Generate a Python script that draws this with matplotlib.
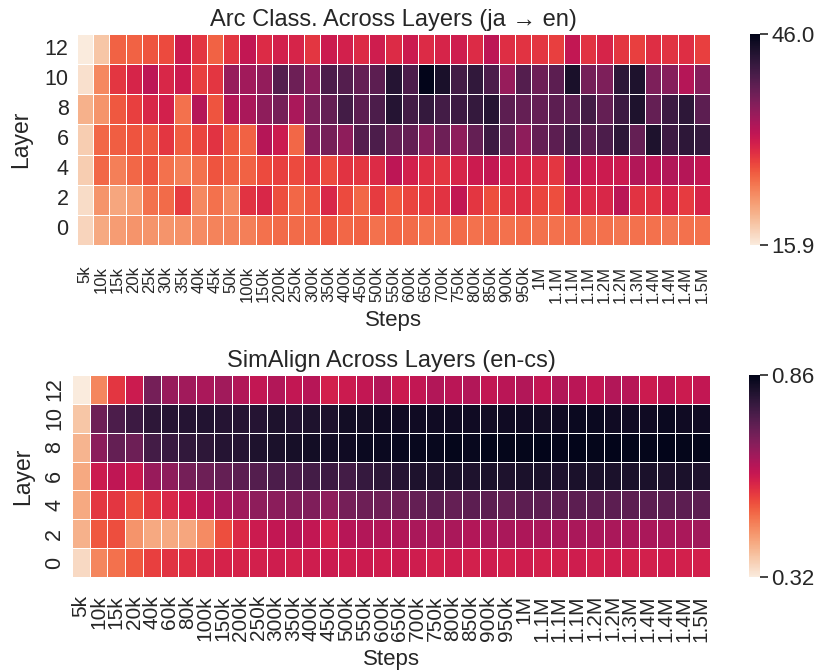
import numpy as np
import matplotlib
matplotlib.use("Agg")
import matplotlib.pyplot as plt
import seaborn as sns

sns.set_theme(style="white")
plt.rcParams["font.family"] = ["Liberation Sans", "DejaVu Sans"]

layers = [12, 10, 8, 6, 4, 2, 0]

# x labels (steps)
arc_steps = ["5k", "10k", "15k", "20k", "25k", "30k", "35k", "40k", "45k", "50k",
             "100k", "150k", "200k", "250k", "300k", "350k", "400k", "450k", "500k",
             "550k", "600k", "650k", "700k", "750k", "800k", "850k", "900k", "950k",
             "1M", "1.1M", "1.1M", "1.1M", "1.2M", "1.2M", "1.3M", "1.4M", "1.4M",
             "1.4M", "1.5M"]
sim_steps = ["5k", "10k", "15k", "20k", "40k", "60k", "80k",
             "100k", "150k", "200k", "250k", "300k", "350k", "400k", "450k", "500k",
             "550k", "600k", "650k", "700k", "750k", "800k", "850k", "900k", "950k",
             "1M", "1.1M", "1.1M", "1.1M", "1.2M", "1.2M", "1.3M", "1.4M", "1.4M",
             "1.4M", "1.5M"]

# arc classification accuracy, ja -> en
arc_l12 = [15.9, 18.9, 25.8, 25.8, 26.7, 27.3, 30.9, 28.5, 25.8, 28.5, 31.6, 29.4, 30.3, 30.0,
           28.5, 30.9, 30.3, 29.4, 30.6, 29.4, 30.9, 29.4, 30.0, 30.6, 29.4, 31.9, 29.1, 28.8,
           28.5, 27.9, 31.6, 28.8, 30.0, 28.5, 27.9, 29.1, 28.8, 29.1, 27.9]
arc_l10 = [16.8, 23.4, 28.5, 30.0, 31.9, 29.7, 30.9, 27.9, 28.5, 34.6, 34.0, 34.9, 39.4, 37.6,
           35.5, 40.0, 39.4, 38.2, 38.8, 43.0, 40.0, 46.0, 43.9, 40.6, 42.1, 40.0, 34.6, 39.4,
           37.6, 38.8, 43.9, 37.0, 36.4, 42.4, 43.6, 36.4, 35.8, 32.5, 35.8]
arc_l8 = [20.4, 22.5, 26.4, 27.9, 29.7, 30.3, 24.9, 32.5, 26.7, 32.5, 33.4, 35.2, 37.0, 33.4,
          36.4, 38.2, 40.6, 38.8, 40.0, 43.0, 40.6, 41.8, 40.6, 41.2, 41.8, 43.0, 38.8, 38.2,
          38.2, 38.8, 38.8, 40.6, 38.2, 41.2, 43.6, 38.2, 41.2, 42.4, 38.8]
arc_l6 = [18.3, 25.5, 26.1, 26.7, 26.4, 28.5, 26.1, 27.6, 28.8, 26.4, 25.8, 32.5, 30.9, 25.5,
          35.8, 37.0, 35.2, 39.4, 40.0, 38.2, 38.2, 35.8, 37.6, 35.2, 38.2, 41.2, 38.2, 35.2,
          38.2, 38.8, 40.6, 38.8, 40.0, 42.4, 38.2, 43.6, 41.2, 42.4, 41.8]
arc_l4 = [18.3, 25.5, 24.0, 25.5, 26.7, 24.9, 24.0, 24.9, 26.7, 25.8, 25.8, 27.3, 27.9, 27.3,
          28.5, 27.3, 28.8, 28.5, 29.4, 31.9, 30.3, 29.1, 28.5, 30.0, 30.9, 31.6, 30.3, 30.0,
          29.4, 28.5, 32.5, 30.9, 30.9, 30.9, 32.8, 32.2, 32.8, 32.5, 31.6]
arc_l2 = [17.1, 22.5, 21.3, 21.9, 24.9, 25.2, 28.2, 23.4, 24.9, 23.4, 28.8, 29.7, 27.0, 25.5,
          26.7, 29.7, 27.3, 25.5, 28.2, 26.4, 27.6, 28.2, 28.8, 31.6, 28.5, 27.0, 28.8, 29.1,
          27.6, 27.0, 30.0, 29.4, 29.7, 32.2, 28.8, 28.8, 30.0, 28.2, 30.0]
arc_l0 = [17.7, 21.0, 21.9, 22.5, 22.5, 22.5, 22.8, 23.1, 23.7, 23.7, 24.0, 24.9, 25.2, 25.2,
          25.5, 26.4, 25.5, 25.8, 24.9, 25.5, 25.2, 24.9, 24.9, 25.2, 24.9, 25.2, 24.9, 25.2,
          24.9, 24.9, 25.2, 24.9, 24.9, 24.6, 24.9, 24.9, 24.6, 24.9, 24.9]

# SimAlign, en-cs
sim_l12 = [0.32, 0.455, 0.547, 0.59, 0.698, 0.655, 0.644, 0.633, 0.644, 0.622, 0.601, 0.622,
           0.601, 0.617, 0.579, 0.59, 0.601, 0.622, 0.59, 0.601, 0.622, 0.612, 0.622, 0.601,
           0.612, 0.622, 0.601, 0.622, 0.612, 0.601, 0.622, 0.617, 0.59, 0.606, 0.59, 0.601]
sim_l10 = [0.374, 0.709, 0.752, 0.774, 0.795, 0.806, 0.806, 0.811, 0.806, 0.806, 0.806, 0.817,
           0.811, 0.817, 0.817, 0.833, 0.833, 0.838, 0.838, 0.838, 0.838, 0.838, 0.838, 0.833,
           0.838, 0.838, 0.833, 0.838, 0.844, 0.844, 0.838, 0.838, 0.838, 0.844, 0.838, 0.838]
sim_l8 = [0.396, 0.671, 0.72, 0.709, 0.763, 0.779, 0.79, 0.795, 0.806, 0.806, 0.817, 0.822,
          0.828, 0.833, 0.833, 0.838, 0.844, 0.844, 0.849, 0.849, 0.849, 0.855, 0.849, 0.86,
          0.855, 0.855, 0.86, 0.855, 0.86, 0.855, 0.86, 0.86, 0.855, 0.86, 0.855, 0.855]
sim_l6 = [0.412, 0.59, 0.606, 0.59, 0.655, 0.666, 0.698, 0.709, 0.72, 0.73, 0.741, 0.752,
          0.752, 0.763, 0.774, 0.763, 0.784, 0.795, 0.806, 0.817, 0.817, 0.822, 0.817, 0.822,
          0.817, 0.822, 0.822, 0.817, 0.822, 0.822, 0.822, 0.822, 0.822, 0.817, 0.822, 0.817]
sim_l4 = [0.412, 0.547, 0.547, 0.52, 0.547, 0.568, 0.59, 0.612, 0.633, 0.644, 0.666, 0.671,
          0.682, 0.687, 0.666, 0.698, 0.709, 0.709, 0.709, 0.72, 0.73, 0.72, 0.73, 0.73,
          0.72, 0.73, 0.73, 0.73, 0.73, 0.73, 0.73, 0.73, 0.73, 0.73, 0.73, 0.73]
sim_l2 = [0.401, 0.509, 0.52, 0.439, 0.412, 0.412, 0.417, 0.45, 0.52, 0.563, 0.59, 0.601,
          0.617, 0.601, 0.579, 0.617, 0.622, 0.622, 0.622, 0.633, 0.633, 0.633, 0.622, 0.633,
          0.633, 0.628, 0.633, 0.633, 0.633, 0.633, 0.633, 0.633, 0.633, 0.633, 0.633, 0.644]
sim_l0 = [0.347, 0.455, 0.482, 0.509, 0.536, 0.552, 0.558, 0.568, 0.574, 0.574, 0.579, 0.585,
          0.579, 0.585, 0.59, 0.585, 0.59, 0.585, 0.59, 0.585, 0.579, 0.585, 0.579, 0.585,
          0.579, 0.585, 0.579, 0.579, 0.585, 0.579, 0.585, 0.579, 0.579, 0.585, 0.579, 0.579]

arc = np.array([arc_l12, arc_l10, arc_l8, arc_l6, arc_l4, arc_l2, arc_l0])
sim = np.array([sim_l12, sim_l10, sim_l8, sim_l6, sim_l4, sim_l2, sim_l0])

W, H = 830, 671
fig = plt.figure(figsize=(W / 100, H / 100), dpi=100)


def box(x0, y0, x1, y1):
    return [x0 / W, 1 - y1 / H, (x1 - x0) / W, (y1 - y0) / H]


ax1 = fig.add_axes(box(77, 34, 710, 245))
cax1 = fig.add_axes(box(750, 34, 760, 245))
ax2 = fig.add_axes(box(72, 375, 710, 577))
cax2 = fig.add_axes(box(749, 375, 760, 577))

vmin1, vmax1 = arc.min(), arc.max()
sns.heatmap(arc, ax=ax1, cbar_ax=cax1, cmap="rocket_r", vmin=vmin1, vmax=vmax1,
            linewidths=0.5, linecolor="white", xticklabels=arc_steps, yticklabels=layers,
            cbar_kws={"ticks": [vmin1, vmax1]})
cax1.set_yticklabels([f"{vmin1:.1f}", f"{vmax1:.1f}"])
ax1.set_title("Arc Class. Across Layers (ja \u2192 en)", fontsize=17, pad=6)
ax1.set_xlabel("Steps", fontsize=16, labelpad=5)
ax1.set_ylabel("Layer", fontsize=16.5, labelpad=9)
ax1.tick_params(axis="x", labelsize=12, length=0, rotation=90, pad=15)
ax1.tick_params(axis="y", labelsize=15.5, length=0, rotation=0, pad=6)

vmin2, vmax2 = sim.min(), sim.max()
sns.heatmap(sim, ax=ax2, cbar_ax=cax2, cmap="rocket_r", vmin=vmin2, vmax=vmax2,
            linewidths=0.5, linecolor="white", xticklabels=sim_steps, yticklabels=layers,
            cbar_kws={"ticks": [vmin2, vmax2]})
cax2.set_yticklabels([f"{vmin2:.2f}", f"{vmax2:.2f}"])
ax2.set_title("SimAlign Across Layers (en-cs)", fontsize=17, pad=6)
ax2.set_xlabel("Steps", fontsize=16, labelpad=5)
ax2.set_ylabel("Layer", fontsize=16.5, labelpad=7)
ax2.tick_params(axis="x", labelsize=15, length=0, rotation=90, pad=13)
ax2.tick_params(axis="y", labelsize=15.5, length=0, rotation=90, pad=5)
for t in ax2.get_yticklabels():
    t.set_va("center")

for cax in (cax1, cax2):
    cax.tick_params(labelsize=16, length=6, width=1.2, right=True, pad=2)

fig.savefig("out.png", dpi=100)
